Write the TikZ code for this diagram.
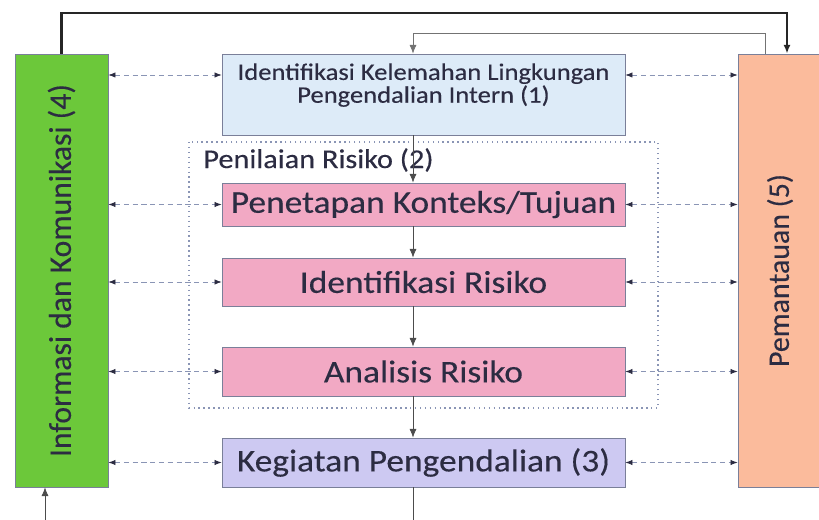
\documentclass[tikz,border=0pt]{standalone}
\usepackage{fontspec}
\setmainfont{Carlito}[FakeBold=0.3]
\newfontfamily\wide{Carlito}[FakeStretch=1.12, FakeBold=0.3]
\usetikzlibrary{arrows.meta}
\definecolor{boxgreen}{HTML}{6CC83A}
\definecolor{boxorange}{HTML}{FBBB9C}
\definecolor{boxblue}{HTML}{DDEBF8}
\definecolor{boxpink}{HTML}{F2A9C4}
\definecolor{boxpurple}{HTML}{CDC9F2}
\definecolor{txt}{HTML}{2C2C42}
\definecolor{edge}{HTML}{7A7F99}
\definecolor{dots}{HTML}{8A95B5}
\begin{document}
\begin{tikzpicture}[x=0.02cm, y=-0.02cm,
    box/.style={draw=edge, text=txt, inner sep=0pt, minimum width=403*0.02cm, font=\wide\fontsize{18}{21}\selectfont},
    side/.style={draw=edge, text=txt, inner sep=0pt, minimum height=433*0.02cm, font=\fontsize{18}{21}\selectfont},
    link/.style={dots, densely dashed, thin, {Latex[length=4pt,width=3pt,color=txt]}-{Latex[length=4pt,width=3pt,color=txt]}},
    flow/.style={draw=black!70, -{Latex[length=5pt,width=4pt]}}]
    \useasboundingbox (0,0) rectangle (819,520);
    \clip (0,0) rectangle (819,520);
    % side boxes
    \node (info) [side, fill=boxgreen, minimum width=93*0.02cm] at (61.5,270.5) {\rotatebox{90}{Informasi dan Komunikasi (4)}};
    \node (pantau) [side, fill=boxorange, minimum width=84*0.02cm, font=\fontsize{17}{20}\selectfont] at (780,270.5) {\rotatebox{90}{Pemantauan (5)}};
    % middle boxes
    \node (lemah) [box, fill=boxblue, minimum height=81*0.02cm, align=center, font=\wide\fontsize{13.5}{13}\selectfont, text depth=13pt] at (423.5,94.5) {Identifikasi Kelemahan Lingkungan\\Pengendalian Intern (1)};
    \draw [dots, dotted, thick] (189,142) rectangle (658,408);
    \node (nilai) [text=txt, anchor=west, font=\wide\fontsize{15.4}{18}\selectfont, inner sep=0pt] at (203,160) {Penilaian Risiko (2)};
    \node (tetap) [box, fill=boxpink, minimum height=43*0.02cm] at (423.5,204.5) {Penetapan Konteks/Tujuan};
    \node (idrisk) [box, fill=boxpink, minimum height=48*0.02cm] at (423.5,282) {Identifikasi Risiko};
    \node (analis) [box, fill=boxpink, minimum height=49*0.02cm] at (423.5,371.5) {Analisis Risiko};
    \node (giat) [box, fill=boxpurple, minimum height=49*0.02cm] at (423.5,462.5) {Kegiatan Pengendalian (3)};
    % helper points
    \coordinate (vx) at (413,0);
    \coordinate (ya) at (0,75);
    \coordinate (tx) at (787,13);
    \coordinate (gx) at (765,33);
    \coordinate (bx) at (45,540);
    % top loops
    \draw [black!85, line width=1.2pt, -{Latex[length=5pt,width=4pt]}] (info.north -| info) |- (tx) -- (pantau.north -| tx);
    \draw [black!55, -{Latex[length=5pt,width=4pt]}] (pantau.north -| gx) |- (vx |- gx) -- (lemah.north -| vx);
    % main flow
    \draw [flow] (lemah.south -| vx) -- (tetap.north -| vx);
    \draw [flow] (tetap.south -| vx) -- (idrisk.north -| vx);
    \draw [flow] (idrisk.south -| vx) -- (analis.north -| vx);
    \draw [flow] (analis.south -| vx) -- (giat.north -| vx);
    \draw [flow] (giat.south -| vx) -- (vx |- bx) -- (bx) -- (info.south -| bx);
    % dotted links
    \draw [link] (info.east |- ya) -- (lemah.west |- ya);
    \draw [link] (lemah.east |- ya) -- (pantau.west |- ya);
    \foreach \n in {tetap, idrisk, analis, giat} {
        \draw [link] (info.east |- \n.west) -- (\n.west);
        \draw [link] (\n.east) -- (pantau.west |- \n.east);
    }
\end{tikzpicture}
\end{document}
